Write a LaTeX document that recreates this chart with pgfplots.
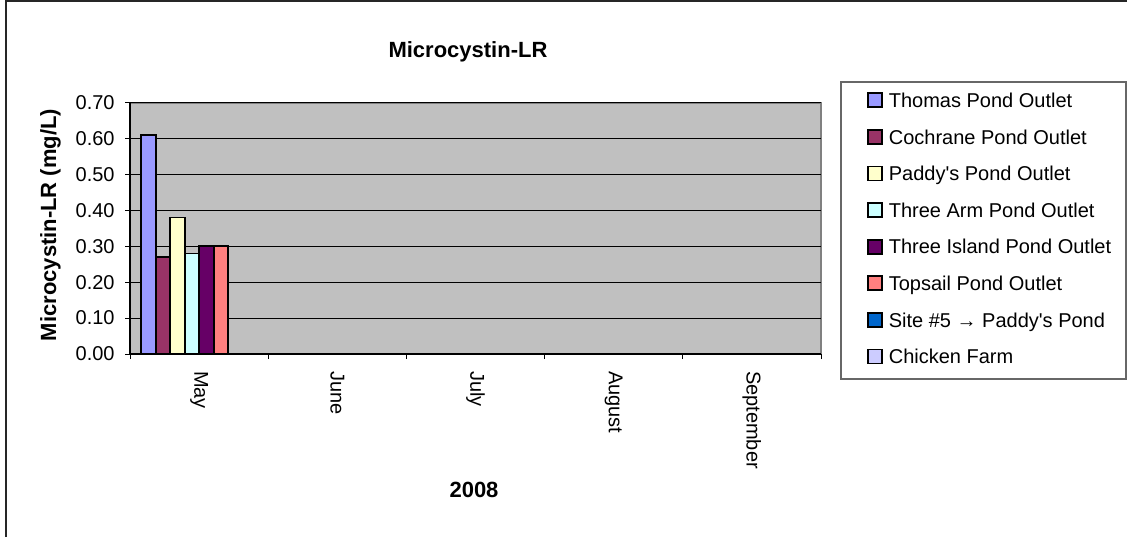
\documentclass[border=0pt]{standalone}
\usepackage{pgfplots}
\pgfplotsset{compat=1.18}
\usepackage{fontspec}
\setmainfont{Liberation Sans}
\definecolor{c1}{HTML}{9999FF}
\definecolor{c2}{HTML}{993366}
\definecolor{c3}{HTML}{FFFFCC}
\definecolor{c4}{HTML}{CCFFFF}
\definecolor{c5}{HTML}{660066}
\definecolor{c6}{HTML}{FF8080}
\definecolor{c7}{HTML}{0066CC}
\definecolor{c8}{HTML}{CCCCFF}
\definecolor{plotgray}{HTML}{C0C0C0}
\definecolor{bordergray}{HTML}{808080}
\pgfplotsset{
  mylegend/.style={legend image code/.code={\draw[##1, draw=black, line width=0.9pt] (0pt,-3.5pt) rectangle (7pt,3.5pt);}},
  mybar/.style={ybar, bar width=7.25pt, line width=0.9pt, mylegend},
}
\begin{document}
\begin{tikzpicture}
\useasboundingbox (0,0) rectangle (563.5pt,268.5pt);
\draw[black!85, line width=1pt] (3pt,0pt) -- (3pt,267.75pt) -- (564pt,267.75pt);
\draw[bordergray!80!black, line width=0.75pt] (420.5pt,227.5pt) rectangle (563pt,79pt);
\begin{axis}[
  at={(65pt,91.5pt)}, anchor=south west,
  scale only axis, width=345.5pt, height=125.65pt,
  xmin=-0.5, xmax=4.5, ymin=0, ymax=0.7,
  axis background/.style={fill=plotgray, draw=bordergray, line width=1pt},
  axis lines*=left,
  axis line style={black, line width=0.6pt, -},
  ymajorgrids=true,
  grid style={black, line width=0.5pt},
  tick align=outside,
  major tick length=2.5pt,
  tick style={black, line width=0.5pt},
  ytick={0,0.1,0.2,0.3,0.4,0.5,0.6,0.7},
  /pgf/number format/assume math mode=true,
  yticklabel style={/pgf/number format/fixed, /pgf/number format/fixed zerofill, /pgf/number format/precision=2, font=\fontsize{10}{12}\selectfont, inner sep=0pt, anchor=east},
  yticklabel shift=5pt,
  xtick={-0.5,0.5,1.5,2.5,3.5,4.5},
  xticklabels={},
  extra x ticks={0,1,2,3,4},
  extra x tick labels={May,June,July,August,September},
  extra x tick style={major tick length=0pt, xticklabel shift=8.3pt, xticklabel style={rotate=-90, anchor=west, inner sep=0pt, font=\fontsize{10}{12}\selectfont}},
  legend style={at={(1.0666,1.041)}, anchor=north west, draw=none, fill=none, inner sep=0pt, outer sep=0pt, row sep=10.4pt, column sep=3pt, nodes={inner sep=0pt, text height=7.16pt, text depth=0pt, font=\fontsize{10}{12}\selectfont}},
  legend cell align=left,
  clip=false,
]
\addplot[mybar, fill=c1, draw=black, bar shift=-25.375pt] coordinates {(0,0.61)};
\addlegendentry{Thomas Pond Outlet}
\addplot[mybar, fill=c2, draw=black, bar shift=-18.125pt] coordinates {(0,0.27)};
\addlegendentry{Cochrane Pond Outlet}
\addplot[mybar, fill=c3, draw=black, bar shift=-10.875pt] coordinates {(0,0.38)};
\addlegendentry{Paddy\textquotesingle s Pond Outlet}
\addplot[mybar, fill=c4, draw=black, bar shift=-3.625pt] coordinates {(0,0.28)};
\addlegendentry{Three Arm Pond Outlet}
\addplot[mybar, fill=c5, draw=black, bar shift=3.625pt] coordinates {(0,0.30)};
\addlegendentry{Three Island Pond Outlet}
\addplot[mybar, fill=c6, draw=black, bar shift=10.875pt] coordinates {(0,0.30)};
\addlegendentry{Topsail Pond Outlet}
\addlegendimage{mybar, fill=c7, draw=black}
\addlegendentry{Site \#5 → Paddy\textquotesingle s Pond}
\addlegendimage{mybar, fill=c8, draw=black}
\addlegendentry{Chicken Farm}
\end{axis}
\node[anchor=base, font=\bfseries\fontsize{11}{13}\selectfont] at (234pt,239.85pt) {Microcystin-LR};
\node[anchor=base, rotate=90, font=\bfseries\fontsize{11}{13}\selectfont] at (28pt,156pt) {Microcystin-LR (mg/L)};
\node[anchor=base, font=\bfseries\fontsize{11}{13}\selectfont] at (237pt,19.75pt) {2008};
\end{tikzpicture}
\end{document}
